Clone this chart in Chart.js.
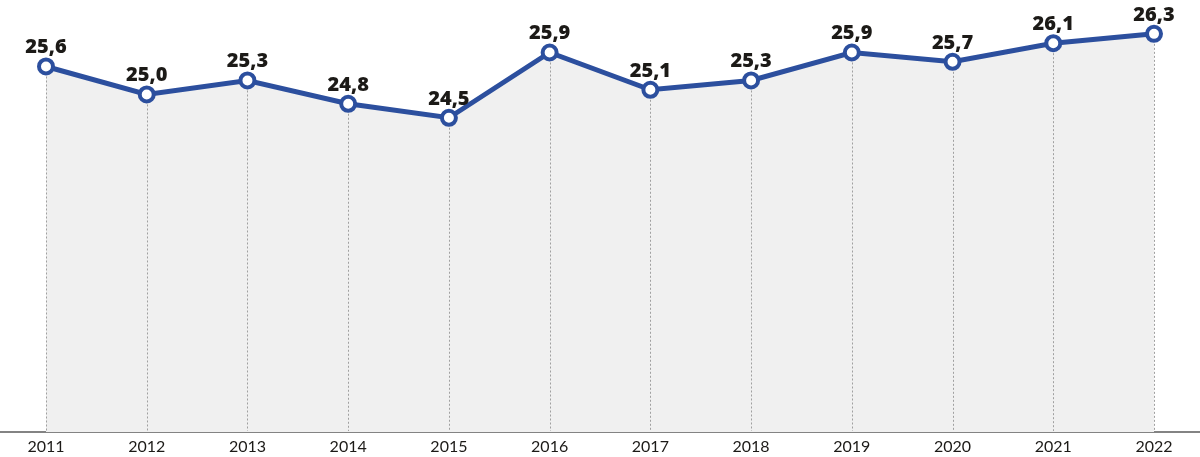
<!DOCTYPE html>
<html lang="en">
<head>
<meta charset="UTF-8">
<title>Line chart 2011-2022</title>
<script src="https://cdn.jsdelivr.net/npm/chart.js"></script>
<style>
  html, body { margin: 0; padding: 0; background: #fff; }
  #wrap { width: 1200px; height: 457px; }
</style>
</head>
<body>
<div id="wrap"><canvas id="lineChart"></canvas></div>
<script>
// chart data
const years = ["2011", "2012", "2013", "2014", "2015", "2016", "2017", "2018", "2019", "2020", "2021", "2022"];
const values = [25.6, 25.0, 25.3, 24.8, 24.5, 25.9, 25.1, 25.3, 25.9, 25.7, 26.1, 26.3];

const blue = "#2c4f9e";

// bottom axis line, dotted drop lines and value labels
const decorPlugin = {
    id: "decor",
    beforeDatasetsDraw(chart) {
        const ctx = chart.ctx;
        const area = chart.chartArea;
        ctx.save();
        ctx.strokeStyle = "#5a5a5a";
        ctx.lineWidth = 1.5;
        ctx.beginPath();
        ctx.moveTo(0, area.bottom);
        ctx.lineTo(chart.width, area.bottom);
        ctx.stroke();
        ctx.restore();
    },
    afterDatasetsDraw(chart) {
        const ctx = chart.ctx;
        const area = chart.chartArea;
        const meta = chart.getDatasetMeta(0);
        ctx.save();
        ctx.strokeStyle = "#a0a0a0";
        ctx.lineWidth = 1;
        ctx.setLineDash([2, 2]);
        meta.data.forEach(pt => {
            ctx.beginPath();
            ctx.moveTo(Math.round(pt.x) + 0.5, pt.y + 10);
            ctx.lineTo(Math.round(pt.x) + 0.5, area.bottom - 1);
            ctx.stroke();
        });
        ctx.setLineDash([]);

        ctx.fillStyle = "#1c1a17";
        ctx.font = "800 20px 'Open Sans'";
        ctx.textAlign = "center";
        ctx.textBaseline = "alphabetic";
        meta.data.forEach((pt, i) => {
            ctx.fillText(values[i].toFixed(1).replace(".", ","), pt.x, pt.y - 13);
        });
        ctx.restore();
    }
};

new Chart(document.getElementById("lineChart"), {
    type: "line",
    data: {
        labels: years,
        datasets: [{
            data: values,
            borderColor: blue,
            borderWidth: 5,
            backgroundColor: "#f0f0f0",
            fill: "start",
            tension: 0,
            pointRadius: 7,
            pointHoverRadius: 7,
            pointBorderWidth: 4,
            pointBackgroundColor: "#ffffff",
            pointBorderColor: blue,
            clip: false
        }]
    },
    options: {
        responsive: true,
        maintainAspectRatio: false,
        animation: false,
        layout: { padding: { left: 46, right: 46, top: 0, bottom: 0 } },
        plugins: {
            legend: { display: false },
            tooltip: { enabled: false }
        },
        scales: {
            x: {
                offset: false,
                grid: { display: false, drawTicks: false },
                border: { display: false },
                ticks: {
                    padding: 5,
                    color: "#1c1a17",
                    font: { family: "Lato", size: 16 },
                    maxRotation: 0
                },
                afterFit(scale) { scale.height = 25; }
            },
            y: {
                display: false,
                min: 17.76,
                max: 26.79
            }
        }
    },
    plugins: [decorPlugin]
});
</script>
</body>
</html>
